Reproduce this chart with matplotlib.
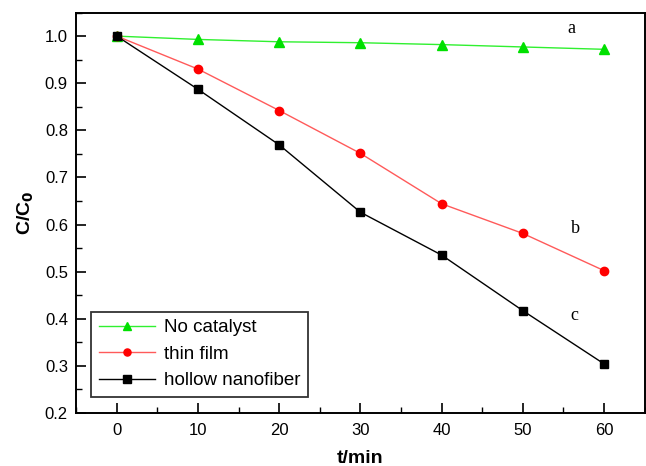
import matplotlib
matplotlib.use("Agg")
import matplotlib.pyplot as plt
from matplotlib.ticker import MultipleLocator

plt.rcParams['font.family'] = ['Liberation Sans', 'DejaVu Sans']

t = [0, 10, 20, 30, 40, 50, 60]
no_catalyst = [1.0, 0.993, 0.988, 0.986, 0.982, 0.977, 0.972]
thin_film = [1.0, 0.930, 0.842, 0.751, 0.644, 0.581, 0.502]
hollow = [1.0, 0.887, 0.769, 0.626, 0.535, 0.417, 0.304]

fig = plt.figure(figsize=(6.46, 4.66), dpi=100)
ax = fig.add_axes([0.118, 0.114, 0.880, 0.859])

ax.plot(t, no_catalyst, color='#30f030', marker='^', markersize=7, lw=1,
        markerfacecolor='#00e000', markeredgecolor='#00e000', label='No catalyst')
ax.plot(t, thin_film, color='#ff5a5a', marker='o', markersize=6, lw=1,
        markerfacecolor='red', markeredgecolor='red', label='thin film')
ax.plot(t, hollow, color='black', marker='s', markersize=6, lw=1, label='hollow nanofiber')

ax.set_xlim(-5, 65)
ax.set_ylim(0.2, 1.05)
ax.xaxis.set_major_locator(MultipleLocator(10))
ax.xaxis.set_minor_locator(MultipleLocator(5))
ax.yaxis.set_major_locator(MultipleLocator(0.1))
ax.yaxis.set_minor_locator(MultipleLocator(0.05))
ax.yaxis.set_major_formatter(plt.FormatStrFormatter('%.1f'))
ax.tick_params(which='both', direction='in', top=False, right=False, labelsize=12)
ax.tick_params(axis='x', which='major', pad=7)
ax.tick_params(axis='y', which='major', pad=6)
ax.tick_params(which='major', length=7, width=1.2)
ax.tick_params(which='minor', length=4, width=1)
for s in ax.spines.values():
    s.set_linewidth(1.4)

ax.set_xlabel('t/min', fontsize=14, fontweight='bold', labelpad=9)
ax.set_ylabel('C/C$_\\mathbf{0}$', fontsize=14, fontweight='bold', labelpad=6)

# curve labels
ax.text(55.5, 1.006, 'a', family='Liberation Serif', fontsize=13)
ax.text(55.9, 0.581, 'b', family='Liberation Serif', fontsize=13)
ax.text(55.8, 0.397, 'c', family='Liberation Serif', fontsize=13)

leg = ax.legend(loc='lower left', bbox_to_anchor=(0.026, 0.04), borderaxespad=0,
                fontsize=13.5, frameon=True, fancybox=False, edgecolor='black',
                handlelength=3.0, handletextpad=0.5, borderpad=0.4,
                labelspacing=0.5, markerscale=0.85)
leg.get_frame().set_linewidth(1.3)

fig.savefig('out.png', dpi=100)
